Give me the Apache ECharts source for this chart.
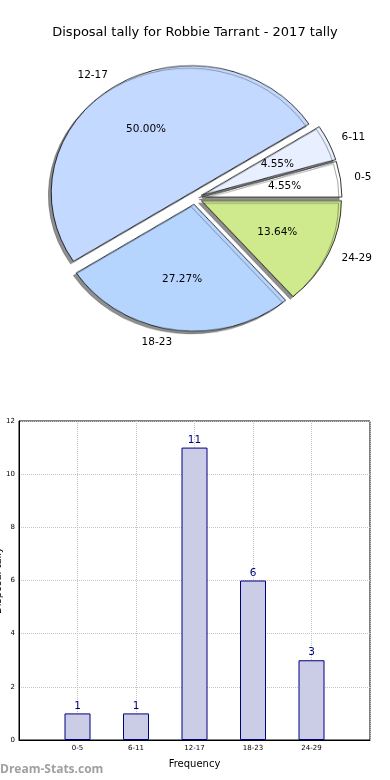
<!DOCTYPE html>
<html>
<head>
<meta charset="utf-8">
<script src="https://cdn.jsdelivr.net/npm/echarts@6/dist/echarts.min.js"></script>
<style>
html,body{margin:0;padding:0;background:#fff;}
#wrap{position:relative;width:390px;height:780px;overflow:hidden;}
#pieShapes{position:absolute;left:0;top:0;width:390px;height:400px;transform:scaleY(0.907);transform-origin:195px 198px;}
#main{position:absolute;left:0;top:0;width:390px;height:780px;}
</style>
</head>
<body>
<div id="wrap"><div id="pieShapes"></div><div id="main"></div></div>
<script>
const titleText = 'Disposal tally for Robbie Tarrant - 2017 tally';
const categories = ['0-5', '6-11', '12-17', '18-23', '24-29'];
const tallyValues = [1, 1, 11, 6, 3];
const sliceColors = ['#ffffff', '#e8f0ff', '#c4d9ff', '#b5d5ff', '#cfea8c'];
const yTicks = [0, 2, 4, 6, 8, 10, 12];
const xAxisName = 'Frequency';
const yAxisName = 'Disposal tally';
const watermark = 'Dream-Stats.com';

const CX = 195, CY = 198, R = 140, K = 0.907, EXPLODE = 7;
const total = tallyValues.reduce((a, b) => a + b, 0);
const FONT = 'DejaVu Sans, sans-serif';

const pieData = categories.map((c, i) => ({
  name: c, value: tallyValues[i], selected: true,
  itemStyle: { color: sliceColors[i] },
  select: { itemStyle: { color: sliceColors[i] } }
}));

// Pie shapes (elliptical via CSS scale)
const shapeChart = echarts.init(document.getElementById('pieShapes'));
shapeChart.setOption({
  animation: false,
  series: [{
    type: 'pie',
    center: [CX, CY],
    radius: [0, R],
    startAngle: 0,
    clockwise: false,
    selectedMode: 'multiple',
    selectedOffset: EXPLODE,
    avoidLabelOverlap: false,
    silent: true,
    label: { show: false },
    labelLine: { show: false },
    itemStyle: {
      borderColor: '#000', borderWidth: 0.8,
      shadowColor: 'rgba(70,70,70,0.6)', shadowBlur: 0, shadowOffsetX: -2.8, shadowOffsetY: 2.8
    },
    select: { itemStyle: { borderColor: '#000', borderWidth: 0.8 } },
    emphasis: { disabled: true },
    data: pieData
  }]
});

function ellipseLayout(params) {
  const r = params.labelRect;
  const x = r.x + r.width / 2;
  const y = r.y + r.height / 2;
  return { x: x, y: CY + (y - CY) * K, align: 'center', verticalAlign: 'middle' };
}

const labelData = categories.map((c, i) => ({ name: c, value: tallyValues[i] }));
const transparentStyle = { color: 'rgba(0,0,0,0)', borderWidth: 0 };

const main = echarts.init(document.getElementById('main'));
main.setOption({
  animation: false,
  title: {
    text: titleText, left: 'center', top: 21,
    textStyle: { fontFamily: FONT, fontSize: 13, fontWeight: 'normal', color: '#000' }
  },
  graphic: [{
    type: 'text', left: 0, top: 764,
    style: { text: watermark, fill: '#a0a0a0', font: 'bold 12px "Open Sans", sans-serif' }
  }],
  grid: {
    left: 19, right: 20, top: 421, bottom: 40,
    outerBoundsMode: 'none', containLabel: false,
    show: true, borderColor: '#000', borderWidth: 1, backgroundColor: 'transparent'
  },
  xAxis: {
    type: 'category',
    data: [''].concat(categories).concat(['']),
    boundaryGap: false,
    name: xAxisName, nameLocation: 'middle', nameGap: 19,
    nameTextStyle: { fontFamily: FONT, fontSize: 10, color: '#000' },
    axisLine: { show: true, lineStyle: { color: '#000' } },
    axisTick: { show: false },
    axisLabel: { fontFamily: FONT, fontSize: 7, color: '#000', margin: 5, interval: 0 },
    splitLine: { show: true, lineStyle: { color: '#c4c4c4', type: 'dotted', width: 1 } }
  },
  yAxis: {
    type: 'value', min: yTicks[0], max: yTicks[yTicks.length - 1], interval: 2,
    name: yAxisName, nameLocation: 'middle', nameGap: 16, nameMoveOverlap: false,
    nameTextStyle: { fontFamily: FONT, fontSize: 10, color: '#000' },
    axisLine: { show: true, lineStyle: { color: '#000' } },
    axisTick: { show: false },
    axisLabel: { fontFamily: FONT, fontSize: 7, color: '#000', margin: 4 },
    splitLine: { show: true, lineStyle: { color: '#c4c4c4', type: 'dotted', width: 1 } }
  },
  series: [
    {
      type: 'bar',
      data: [null].concat(tallyValues).concat([null]),
      barWidth: 26,
      itemStyle: { color: '#cbcce6', borderColor: '#000080', borderWidth: 1 },
      label: { show: true, position: 'top', distance: 2, fontFamily: FONT, fontSize: 10.5, color: '#000080' },
      silent: true
    },
    {
      type: 'pie', center: [CX, CY], radius: [0, R], startAngle: 0, clockwise: false,
      avoidLabelOverlap: false, silent: true,
      itemStyle: transparentStyle,
      emphasis: { disabled: true },
      label: { show: true, position: 'outside', distanceToLabelLine: 0, fontFamily: FONT, fontSize: 10.5, color: '#000', formatter: '{b}' },
      labelLine: { show: false, length: 14 + EXPLODE, length2: 0 },
      labelLayout: ellipseLayout,
      data: labelData
    },
    {
      type: 'pie', center: [CX, CY], radius: [R * 0.25, R], startAngle: 0, clockwise: false,
      avoidLabelOverlap: false, silent: true,
      itemStyle: transparentStyle,
      emphasis: { disabled: true },
      label: { show: true, position: 'inside', fontFamily: FONT, fontSize: 10.5, color: '#000',
        formatter: p => (p.value / total * 100).toFixed(2) + '%' },
      labelLine: { show: false },
      labelLayout: ellipseLayout,
      data: labelData
    }
  ]
});
</script>
</body>
</html>
